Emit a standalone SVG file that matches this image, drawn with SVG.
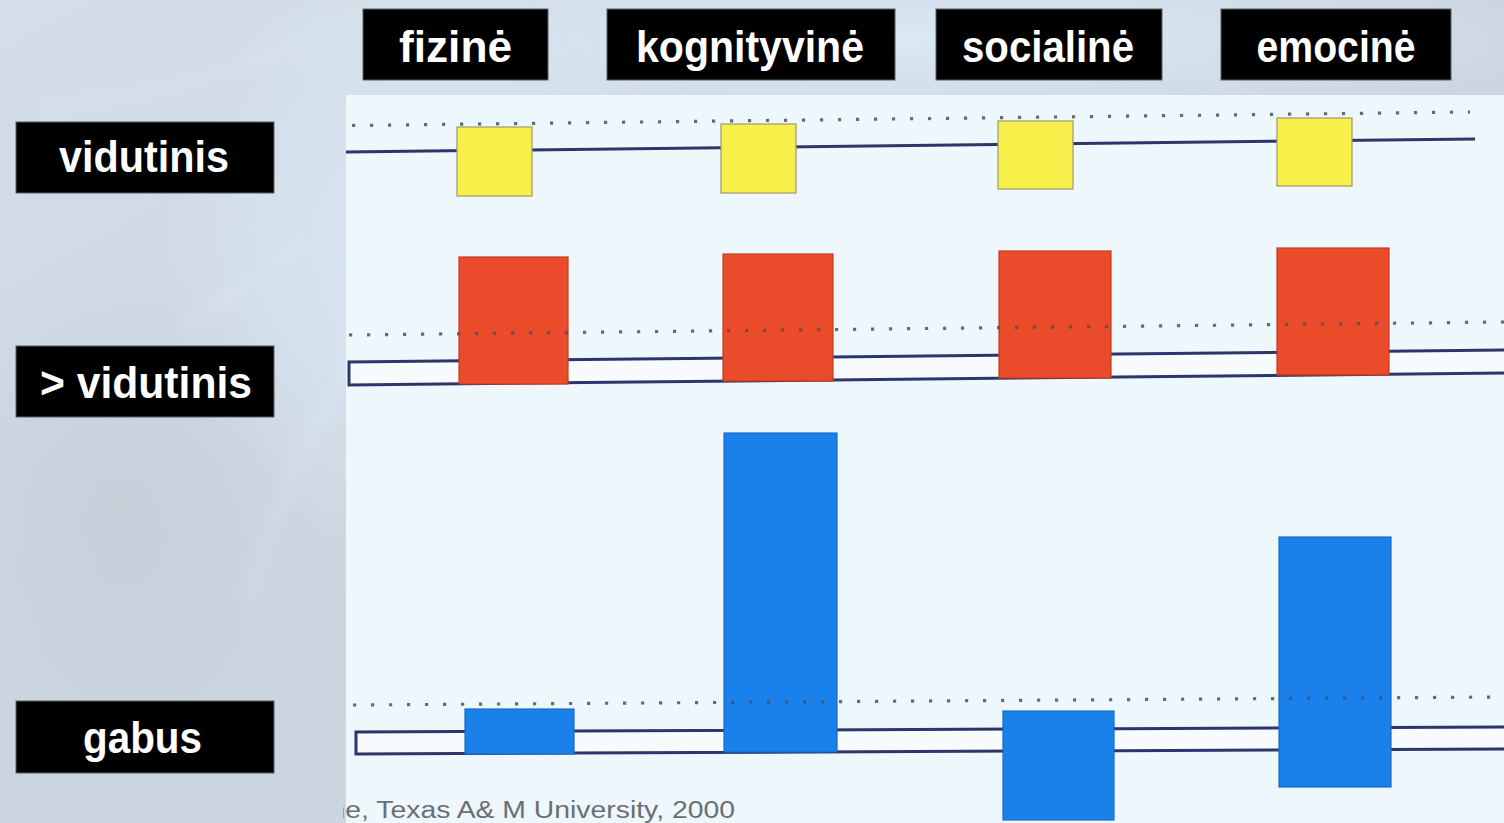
<svg xmlns="http://www.w3.org/2000/svg" width="1504" height="823" viewBox="0 0 1504 823">
  <defs>
    <style>
      .tag { fill: #000; stroke: #5a5f66; stroke-width: 1; }
      .tagtxt { fill: #fff; font-family: "Liberation Sans", Arial, sans-serif; font-weight: bold; font-size: 44px; text-anchor: middle; }
      .base { stroke: #2c356c; stroke-width: 3; fill: none; }
      .tube { stroke: #2c356c; stroke-width: 3; fill: #f7fbfd; }
      .dots { stroke: #4a5162; stroke-opacity: 0.85; stroke-width: 3.2; stroke-dasharray: 3.2 14.8; fill: none; }
      .avg { fill: #f8f04a; stroke: #9e9a68; stroke-width: 1.2; }
      .above { fill: #ea4b2b; stroke: #c33b22; stroke-width: 1.2; }
      .gifted { fill: #1a80ea; stroke: #1a6cc8; stroke-width: 1.2; }
      .caption { fill: #6c6e76; font-family: "Liberation Sans", Arial, sans-serif; font-size: 23px; }
    </style>
    <linearGradient id="bgGrad" x1="0" y1="0" x2="1" y2="1">
      <stop offset="0" stop-color="#d3dee8"/>
      <stop offset="0.5" stop-color="#cbd5df"/>
      <stop offset="1" stop-color="#cfd9e3"/>
    </linearGradient>
    <radialGradient id="glowA" cx="0.5" cy="0.5" r="0.5">
      <stop offset="0" stop-color="#dcebf7" stop-opacity="0.9"/>
      <stop offset="1" stop-color="#dcebf7" stop-opacity="0"/>
    </radialGradient>
    <radialGradient id="glowB" cx="0.5" cy="0.5" r="0.5">
      <stop offset="0" stop-color="#c4ccd6" stop-opacity="0.7"/>
      <stop offset="1" stop-color="#c4ccd6" stop-opacity="0"/>
    </radialGradient>
    <filter id="soft" x="-20%" y="-20%" width="140%" height="140%">
      <feGaussianBlur stdDeviation="8"/>
    </filter>
    <clipPath id="panelClip">
      <rect x="343" y="95" width="1161" height="728"/>
    </clipPath>
  </defs>

  <!-- hazy backdrop -->
  <g id="backdrop">
    <rect x="0" y="0" width="1504" height="823" fill="url(#bgGrad)"/>
    <ellipse cx="420" cy="260" rx="260" ry="300" fill="url(#glowA)"/>
    <ellipse cx="900" cy="40" rx="700" ry="90" fill="url(#glowA)"/>
    <ellipse cx="120" cy="520" rx="200" ry="260" fill="url(#glowB)"/>
    <g filter="url(#soft)" stroke="#e3eef7" stroke-opacity="0.4" fill="none" stroke-width="7">
      <path d="M40,110 C140,95 230,80 300,40 C340,20 380,10 420,0"/>
      <path d="M250,600 C270,520 300,450 330,400 C350,360 360,330 345,300"/>
      <path d="M180,330 C220,300 260,280 300,240"/>
    </g>
    <rect x="346" y="95" width="1158" height="728" fill="#eef7fb"/>
  </g>

  <!-- column headings -->
  <g id="col-fizine">
    <rect class="tag" x="363" y="9" width="185" height="71"/>
    <text class="tagtxt" x="455.5" y="62" textLength="113" lengthAdjust="spacingAndGlyphs">fizinė</text>
  </g>
  <g id="col-kognityvine">
    <rect class="tag" x="607" y="9" width="288" height="71"/>
    <text class="tagtxt" x="750" y="62" textLength="228" lengthAdjust="spacingAndGlyphs">kognityvinė</text>
  </g>
  <g id="col-socialine">
    <rect class="tag" x="936" y="9" width="226" height="71"/>
    <text class="tagtxt" x="1048" y="62" textLength="172" lengthAdjust="spacingAndGlyphs">socialinė</text>
  </g>
  <g id="col-emocine">
    <rect class="tag" x="1221" y="9" width="230" height="71"/>
    <text class="tagtxt" x="1336" y="62" textLength="159" lengthAdjust="spacingAndGlyphs">emocinė</text>
  </g>

  <!-- row headings -->
  <g id="row-vidutinis">
    <rect class="tag" x="16" y="122" width="258" height="71"/>
    <text class="tagtxt" x="144" y="172" textLength="170" lengthAdjust="spacingAndGlyphs">vidutinis</text>
  </g>
  <g id="row-virs-vidutinis">
    <rect class="tag" x="16" y="346" width="258" height="71"/>
    <text class="tagtxt" x="146" y="398" textLength="212" lengthAdjust="spacingAndGlyphs">&gt; vidutinis</text>
  </g>
  <g id="row-gabus">
    <rect class="tag" x="16" y="701" width="258" height="72"/>
    <text class="tagtxt" x="142.5" y="753" textLength="119" lengthAdjust="spacingAndGlyphs">gabus</text>
  </g>

  <!-- baselines and reference levels -->
  <g id="connectors">
    <line class="base" x1="346" y1="152" x2="1475" y2="139"/>
    <path class="tube" d="M1504,350 L349,362 L349,385 L1504,373"/>
    <path class="tube" d="M1504,727 L356,732 L356,754 L1504,749"/>
  </g>

  <!-- average profile -->
  <g id="bars-vidutinis">
    <rect class="avg" x="457" y="127" width="75" height="69"/>
    <rect class="avg" x="721" y="124" width="75" height="69"/>
    <rect class="avg" x="998" y="121" width="75" height="68"/>
    <rect class="avg" x="1277" y="118" width="75" height="68"/>
  </g>

  <!-- above-average profile -->
  <g id="bars-virs-vidutinis">
    <rect class="above" x="459" y="257" width="109" height="127"/>
    <rect class="above" x="723" y="254" width="110" height="127"/>
    <rect class="above" x="999" y="251" width="112" height="127"/>
    <rect class="above" x="1277" y="248" width="112" height="127"/>
  </g>

  <!-- gifted profile -->
  <g id="bars-gabus">
    <rect class="gifted" x="465" y="709" width="109" height="45"/>
    <rect class="gifted" x="724" y="433" width="113" height="319"/>
    <rect class="gifted" x="1003" y="711" width="111" height="109"/>
    <rect class="gifted" x="1279" y="537" width="112" height="250"/>
  </g>

  <!-- dotted reference levels, drawn over the bars -->
  <g id="levels">
    <line class="dots" x1="352" y1="125.5" x2="1470" y2="112"/>
    <line class="dots" x1="349" y1="335" x2="1504" y2="322"/>
    <line class="dots" x1="353" y1="705" x2="1504" y2="697"/>
  </g>

  <!-- source line -->
  <g id="source" clip-path="url(#panelClip)">
    <text class="caption" x="329.5" y="818" textLength="405.5" lengthAdjust="spacingAndGlyphs">ne, Texas A&amp; M University, 2000</text>
  </g>
</svg>
